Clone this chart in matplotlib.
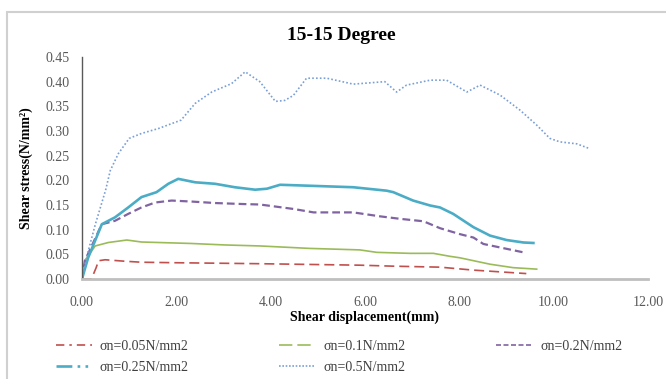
import matplotlib
matplotlib.use("Agg")
import matplotlib.pyplot as plt
from matplotlib.lines import Line2D
from matplotlib.patches import Rectangle

# ---- data ----
x_005 = [0, 0.2, 0.3, 0.35, 0.49, 0.91, 1.26, 1.97, 3.77, 5.89, 6.6, 7.59, 8.3, 9.42]
y_005 = [0, 0.0, 0.023, 0.037, 0.039, 0.036, 0.034, 0.033, 0.031, 0.028, 0.026, 0.024, 0.018, 0.011]

x_01 = [0, 0.08, 0.28, 0.56, 0.95, 1.26, 2.32, 3.03, 3.77, 4.83, 5.89, 6.25, 6.95, 7.45, 7.8, 8.01, 8.65, 9.14, 9.64]
y_01 = [0, 0.04, 0.067, 0.074, 0.079, 0.075, 0.072, 0.069, 0.067, 0.062, 0.059, 0.054, 0.052, 0.052, 0.046, 0.043, 0.030, 0.023, 0.020]

x_02 = [0, 0.06, 0.42, 0.7, 0.98, 1.26, 1.55, 1.9, 2.32, 2.82, 3.39, 3.77, 4.09, 4.48, 4.91, 5.75, 6.32, 6.74, 7.24, 7.59, 8.01, 8.3, 8.51, 8.86, 9.36]
y_02 = [0, 0.037, 0.111, 0.118, 0.132, 0.145, 0.155, 0.159, 0.157, 0.154, 0.152, 0.151, 0.147, 0.142, 0.135, 0.135, 0.127, 0.122, 0.117, 0.103, 0.091, 0.084, 0.071, 0.064, 0.054]

x_025 = [0, 0.13, 0.42, 0.7, 0.98, 1.26, 1.58, 1.83, 2.04, 2.4, 2.82, 3.24, 3.67, 3.92, 4.2, 4.83, 5.75, 6.46, 6.6, 7.02, 7.38, 7.59, 7.87, 8.3, 8.65, 9.0, 9.36, 9.57]
y_025 = [0, 0.043, 0.111, 0.125, 0.145, 0.166, 0.176, 0.193, 0.203, 0.196, 0.193, 0.186, 0.181, 0.183, 0.191, 0.189, 0.186, 0.179, 0.176, 0.159, 0.149, 0.145, 0.132, 0.105, 0.088, 0.079, 0.074, 0.073]

x_05 = [0, 0.1, 0.28, 0.5, 0.6, 0.77, 1.0, 1.26, 1.62, 2.1, 2.4, 2.75, 3.17, 3.46, 3.77, 4.1, 4.3, 4.48, 4.76, 5.19, 5.75, 6.42, 6.67, 6.88, 7.38, 7.73, 8.16, 8.44, 8.86, 9.29, 9.64, 9.92, 10.13, 10.49, 10.77]
y_05 = [0, 0.045, 0.11, 0.18, 0.22, 0.254, 0.285, 0.295, 0.305, 0.322, 0.356, 0.379, 0.396, 0.42, 0.40, 0.36, 0.362, 0.372, 0.407, 0.407, 0.395, 0.40, 0.379, 0.393, 0.403, 0.403, 0.379, 0.393, 0.373, 0.342, 0.312, 0.285, 0.278, 0.274, 0.264]

labels = ["σn=0.05N/mm2", "σn=0.1N/mm2", "σn=0.2N/mm2", "σn=0.25N/mm2", "σn=0.5N/mm2"]
x_ticks = [0, 2, 4, 6, 8, 10, 12]
y_ticks = [0, 0.05, 0.10, 0.15, 0.20, 0.25, 0.30, 0.35, 0.40, 0.45]

title = "15-15 Degree"
xlabel = "Shear displacement(mm)"
ylabel = "Shear stress(N/mm²)"

c_red, c_green, c_purple, c_cyan, c_blue = "#C0504D", "#9BBB59", "#8064A2", "#4BACC6", "#7A9FD6"

plt.rcParams['font.family'] = ['Liberation Serif', 'DejaVu Serif']

fig = plt.figure(figsize=(6.66, 3.79), dpi=100)
W, H = 666, 379
# outer frame
fig.patches.append(Rectangle((7 / W, -0.1), 1.2, 1 - 12 / H + 0.1, transform=fig.transFigure,
                             fill=False, edgecolor="#D0D0D0", linewidth=1.5))

ax = fig.add_axes([82 / W, 1 - 279 / H, (648 - 82) / W, (279 - 57) / H])

ax.plot(x_005, y_005, color=c_red, lw=1.2, dashes=(6, 3))
ax.plot(x_01, y_01, color=c_green, lw=1.2)
ax.plot(x_02, y_02, color=c_purple, lw=1.6, dashes=(3.5, 1.8))
ax.plot(x_025, y_025, color=c_cyan, lw=1.9)
ax.plot(x_05, y_05, color=c_blue, lw=1.2, dashes=(1, 1.3))

ax.set_xlim(0, 12)
ax.set_ylim(0, 0.45)
ax.set_xticks(x_ticks)
ax.set_xticklabels([f"{v:.2f}" for v in x_ticks])
ax.set_yticks(y_ticks)
ax.set_yticklabels([f"{v:.2f}" for v in y_ticks])
ax.tick_params(axis='both', length=0, labelsize=10, labelcolor="#595959")
ax.tick_params(axis='x', pad=12)
ax.tick_params(axis='y', pad=9)

for s in ["top", "right"]:
    ax.spines[s].set_visible(False)
ax.spines["left"].set_color("#595959")
ax.spines["left"].set_linewidth(1.0)
ax.spines["bottom"].set_color("#BFBFBF")
ax.spines["bottom"].set_linewidth(2.0)

fig.text(341 / W, 1 - 36 / H, title, ha="center", va="center", fontsize=14, fontweight="bold")
ax.set_xlabel(xlabel, fontsize=10, fontweight="bold", labelpad=1)
ax.set_ylabel(ylabel, fontsize=10, fontweight="bold", labelpad=9)

handles = [
    Line2D([], [], color=c_red, lw=1.2, dashes=(5, 3, 1.5, 3)),
    Line2D([], [], color=c_green, lw=1.2, dashes=(8, 3)),
    Line2D([], [], color=c_purple, lw=1.2, dashes=(3, 1.5)),
    Line2D([], [], color=c_cyan, lw=1.9, dashes=(6, 2, 1, 2, 1, 2)),
    Line2D([], [], color=c_blue, lw=1.2, dashes=(1, 1)),
]
# legend is filled column by column: reorder so rows read 0.05/0.1/0.2 then 0.25/0.5
order = [0, 3, 1, 4, 2]
fig.legend([handles[i] for i in order], [labels[i] for i in order], ncol=3, loc="upper left",
           bbox_to_anchor=(43 / W, 1 - 327 / H),
           frameon=False, fontsize=10, handlelength=2.6, handletextpad=0.6,
           columnspacing=6.5, labelspacing=0.6, labelcolor="#404040")

fig.savefig("out.png", dpi=100)
